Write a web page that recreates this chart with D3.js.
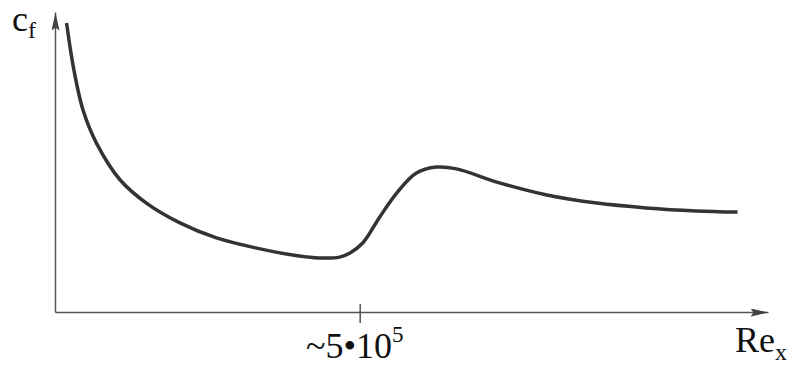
<!DOCTYPE html>
<html lang="en">
  <head>
    <meta charset="UTF-8">
    <title>Skin friction coefficient</title>
    <script src="https://d3js.org/d3.v7.min.js"></script>
    <style>
      body { margin: 0; background: white; }
    </style>
  </head>
  <body>
    <script>
      // Re_x in units of 1e5, cf in arbitrary units
      var reValues = [0.19, 0.30, 0.46, 0.68, 1.07, 1.50, 2.05, 2.65, 3.31, 3.90, 4.34, 4.67, 4.84, 5.05, 5.33, 5.61, 5.93, 6.26, 6.59, 7.25, 8.07, 8.89, 9.70, 10.52, 11.20];
      var cfValues = [9.63, 8.18, 6.73, 5.63, 4.40, 3.63, 2.97, 2.47, 2.13, 1.90, 1.80, 1.83, 1.97, 2.30, 3.17, 3.97, 4.63, 4.83, 4.77, 4.33, 3.90, 3.63, 3.47, 3.37, 3.33];
      var xTicks = [5];

      var width = 787, height = 365;
      var serif = "Liberation Serif";

      var svg = d3.select("body").append("svg")
        .attr("width", width)
        .attr("height", height);

      var x = d3.scaleLinear().domain([0, 11.7]).range([55, 768]);
      var y = d3.scaleLinear().domain([0, 10]).range([312, 12]);

      var defs = svg.append("defs");
      defs.append("marker")
        .attr("id", "arrow")
        .attr("markerUnits", "userSpaceOnUse")
        .attr("viewBox", "0 0 18 8")
        .attr("refX", 18)
        .attr("refY", 4)
        .attr("markerWidth", 18)
        .attr("markerHeight", 8)
        .attr("orient", "auto")
        .append("path")
        .attr("d", "M0,0L18,4L0,8L3,4Z")
        .attr("fill", "#444");

      var xAxis = svg.append("g")
        .attr("transform", `translate(0,${y(0)})`)
        .call(d3.axisBottom(x).tickValues(xTicks).tickFormat("").tickSizeOuter(0));
      xAxis.select(".domain")
        .attr("stroke", "#555")
        .attr("stroke-width", 1.5)
        .attr("marker-end", "url(#arrow)");
      xAxis.selectAll(".tick line")
        .attr("y1", -8)
        .attr("y2", 11)
        .attr("stroke", "#555")
        .attr("stroke-width", 1.5);

      var yAxis = svg.append("g")
        .attr("transform", `translate(${x(0)},0)`)
        .call(d3.axisLeft(y).tickValues([]).tickSizeOuter(0));
      yAxis.select(".domain")
        .attr("stroke", "#555")
        .attr("stroke-width", 1.5)
        .attr("marker-end", "url(#arrow)");

      var pts = reValues.map((r, i) => [r, cfValues[i]]);
      var line = d3.line()
        .x(d => x(d[0]))
        .y(d => y(d[1]))
        .curve(d3.curveCatmullRom.alpha(0.5));

      svg.append("path")
        .datum(pts)
        .attr("fill", "none")
        .attr("stroke", "#333")
        .attr("stroke-width", 3.5)
        .attr("d", line);

      // labels
      var cf = svg.append("text")
        .attr("x", 12)
        .attr("y", 31)
        .attr("font-family", serif)
        .attr("fill", "#111")
        .attr("font-size", 36);
      cf.append("tspan").text("c");
      cf.append("tspan").attr("dy", 7).attr("font-size", 24).text("f");

      var re = svg.append("text")
        .attr("x", 735)
        .attr("y", 352)
        .attr("font-family", serif)
        .attr("fill", "#111")
        .attr("font-size", 36);
      re.append("tspan").text("Re");
      re.append("tspan").attr("dy", 8).attr("font-size", 24).text("x");

      var tick = svg.append("text")
        .attr("x", 306)
        .attr("y", 358)
        .attr("font-family", serif)
        .attr("fill", "#111")
        .attr("font-size", 36);
      tick.append("tspan").text("~5•10");
      tick.append("tspan").attr("dy", -16).attr("font-size", 23).text("5");
    </script>
  </body>
</html>
